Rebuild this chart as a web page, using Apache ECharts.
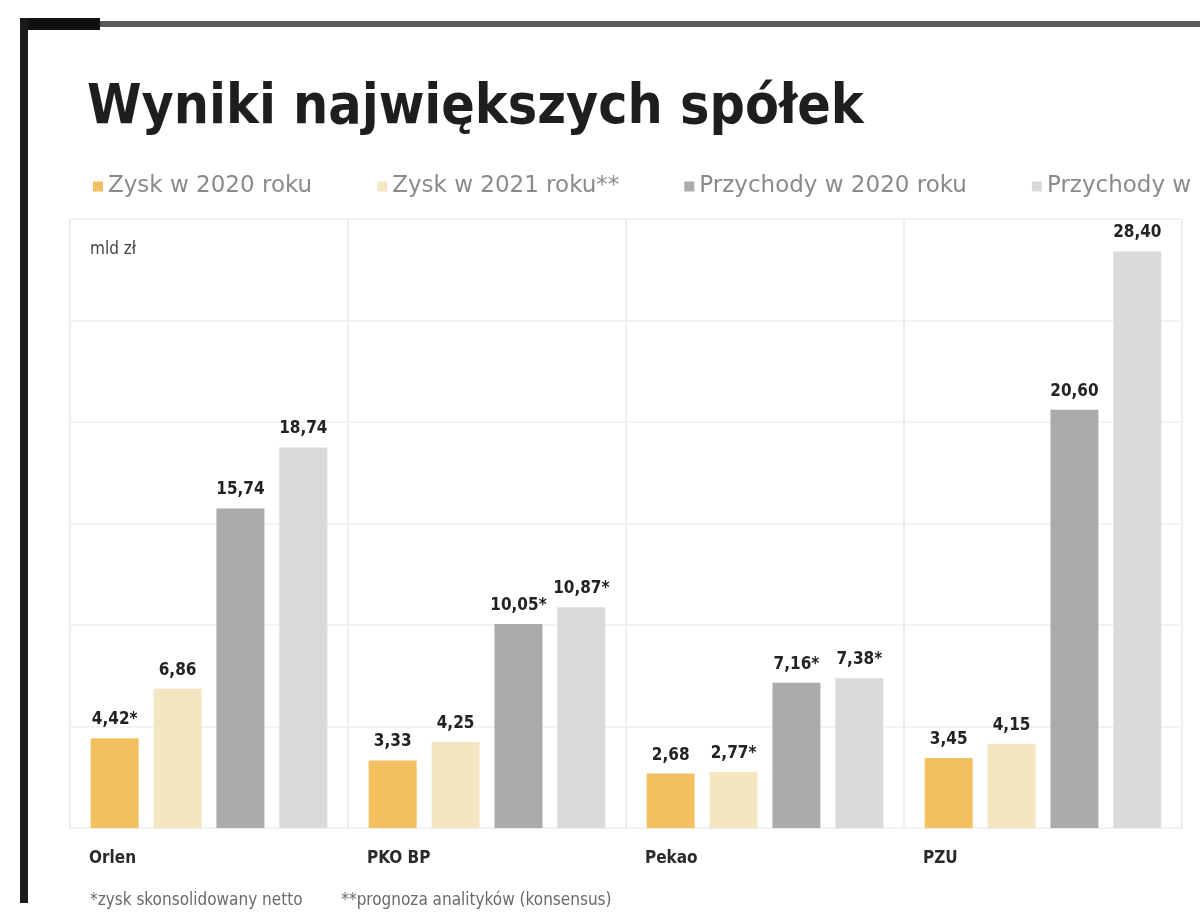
<!DOCTYPE html>
<html><head><meta charset="utf-8">
<script src="https://cdn.jsdelivr.net/npm/echarts@6/dist/echarts.min.js"></script>
<style>html,body{margin:0;padding:0;background:#fff}#c{width:1200px;height:923px}</style>
</head><body><div id="c"></div>
<script>
const categories = ['Orlen', 'PKO BP', 'Pekao', 'PZU'];
const seriesNames = ['Zysk w 2020 roku', 'Zysk w 2021 roku**', 'Przychody w 2020 roku', 'Przychody w 2021 roku'];
const zysk2020 = [4.42, 3.33, 2.68, 3.45];
const zysk2021 = [6.86, 4.25, 2.77, 4.15];
const przychody2020 = [15.74, 10.05, 7.16, 20.60];
const przychody2021 = [18.74, 10.87, 7.38, 28.40];
const marks2020z = ['*', '', '', ''];
const marks2021z = ['', '', '*', ''];
const marks2020p = ['', '*', '*', ''];
const marks2021p = ['', '*', '*', ''];
const colors = ['#f2c061', '#f5e6c2', '#ababab', '#dadada'];
const yTicks = [0, 5, 10, 15, 20, 25, 30];

const FONT = 'DejaVu Sans Condensed, DejaVu Sans, sans-serif';
const chart = echarts.init(document.getElementById('c'));
function mk(i, data, marks) {
  return {
    name: seriesNames[i], type: 'bar', data: data,
    barWidth: 48, barGap: '31%',
    itemStyle: { color: colors[i] },
    label: {
      show: true, position: 'top', distance: 10,
      fontFamily: FONT, fontWeight: 'bold', fontSize: 17, color: '#222',
      formatter: p => p.value.toFixed(2).replace('.', ',') + marks[p.dataIndex]
    }
  };
}
chart.setOption({
  animation: false,
  color: colors,
  title: [
    { text: 'Wyniki największych spółek', left: 82, top: 76,
      textStyle: { fontFamily: FONT, fontWeight: 'bold', fontSize: 55, color: '#1e1e1e' } },
    { text: 'mld zł', left: 85, top: 236,
      textStyle: { fontFamily: FONT, fontWeight: 'normal', fontSize: 17, color: '#444' } },
    { text: '*zysk skonsolidowany netto        **prognoza analityków (konsensus)', left: 85, top: 887,
      textStyle: { fontFamily: FONT, fontWeight: 'normal', fontSize: 17, color: '#6a6a6a' } }
  ],
  legend: {
    left: 88, top: 170, width: 3000, icon: 'rect', itemWidth: 10, itemHeight: 10, itemGap: 65,
    textStyle: { fontFamily: 'DejaVu Sans, sans-serif', fontSize: 23, color: '#8a8a8a' },
    data: seriesNames
  },
  grid: { left: 70, right: 18, top: 219, bottom: 95 },
  xAxis: {
    type: 'category', data: categories,
    axisLine: { show: true, lineStyle: { color: '#eee' } },
    axisTick: { show: false },
    splitLine: { show: true, lineStyle: { color: '#eeeeee', width: 2 } },
    axisLabel: {
      margin: 22,
      formatter: v => '{a|' + v + '}',
      rich: { a: { width: 240, align: 'left', fontFamily: FONT, fontWeight: 'bold', fontSize: 17, color: '#2a2a2a' } }
    }
  },
  yAxis: {
    type: 'value', min: yTicks[0], max: yTicks[yTicks.length - 1], interval: yTicks[1] - yTicks[0],
    axisLabel: { show: false }, axisLine: { show: false }, axisTick: { show: false },
    splitLine: { lineStyle: { color: '#f2f2f2', width: 2 } }
  },
  series: [
    mk(0, zysk2020, marks2020z),
    mk(1, zysk2021, marks2021z),
    mk(2, przychody2020, marks2020p),
    mk(3, przychody2021, marks2021p)
  ],
  graphic: [
    { type: 'rect', shape: { x: 26, y: 21, width: 1174, height: 6 }, style: { fill: '#5a5a5a' } },
    { type: 'rect', shape: { x: 20, y: 18, width: 80, height: 12 }, style: { fill: '#111' } },
    { type: 'rect', shape: { x: 20, y: 18, width: 8, height: 885 }, style: { fill: '#1a1a1a' } }
  ]
});
</script></body></html>
